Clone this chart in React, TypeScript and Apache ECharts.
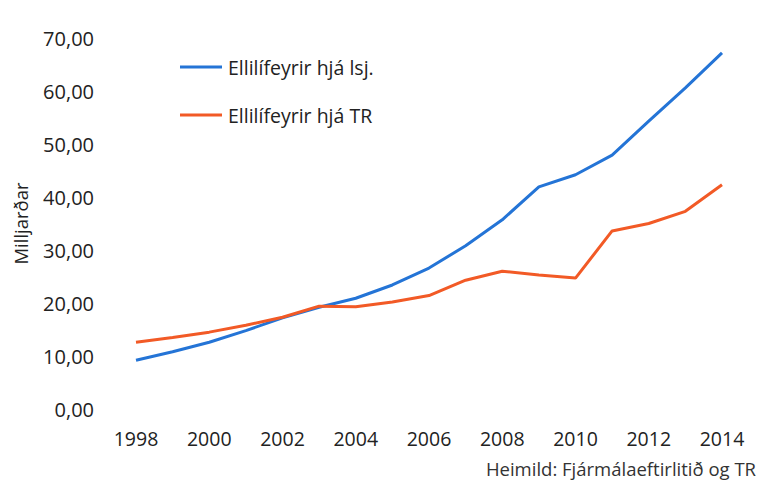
import React, { useEffect, useRef } from "react";
import * as echarts from "echarts";

const years = ["1998","1999","2000","2001","2002","2003","2004","2005","2006","2007","2008","2009","2010","2011","2012","2013","2014"];
const lsj = [9.2, 10.8, 12.6, 14.8, 17.2, 19.2, 20.9, 23.4, 26.6, 30.8, 35.7, 41.9, 44.2, 47.9, 54.3, 60.6, 67.2];
const tr = [12.6, 13.5, 14.5, 15.8, 17.3, 19.4, 19.3, 20.2, 21.4, 24.3, 26.0, 25.3, 24.7, 33.6, 35.0, 37.3, 42.3];
const seriesNames = ["Ellilífeyrir hjá lsj.", "Ellilífeyrir hjá TR"];
const yTicks = { min: 0, max: 70, interval: 10 };
const yTitle = "Milljarðar";
const sourceText = "Heimild: Fjármálaeftirlitið og TR";

const FONT = "'Open Sans', 'Noto Sans', sans-serif";

export default function App() {
  const ref = useRef<HTMLDivElement>(null);
  useEffect(() => {
    if (!ref.current) return;
    const chart = echarts.init(ref.current, null, { renderer: "svg" });
    chart.setOption({
      animation: false,
      backgroundColor: "#ffffff",
      textStyle: { fontFamily: FONT },
      grid: { left: 136, right: 38, top: 38, bottom: 83, containLabel: false },
      legend: {
        orient: "vertical",
        left: 180,
        top: 57,
        padding: 0,
        itemWidth: 42,
        itemHeight: 3,
        itemGap: 28,
        textStyle: { fontSize: 19.5, color: "#222", fontFamily: FONT, padding: [0, 0, 0, 1] },
        data: seriesNames.map((n) => ({ name: n, icon: "rect" })),
      },
      xAxis: {
        type: "category",
        data: years,
        boundaryGap: false,
        axisLine: { show: false },
        axisTick: { show: false },
        axisLabel: { interval: 1, margin: 19, fontSize: 19.5, color: "#222", fontFamily: FONT },
        splitLine: { show: false },
      },
      yAxis: {
        type: "value",
        min: yTicks.min,
        max: yTicks.max,
        interval: yTicks.interval,
        name: yTitle,
        nameLocation: "middle",
        nameRotate: 90,
        nameGap: 106,
        nameTextStyle: { fontSize: 18.5, color: "#222", fontFamily: FONT },
        axisLine: { show: false },
        axisTick: { show: false },
        splitLine: { show: false },
        axisLabel: {
          margin: 42,
          fontSize: 20,
          color: "#222",
          fontFamily: FONT,
          formatter: (v: number) => v.toFixed(2).replace(".", ","),
        },
      },
      graphic: [
        {
          type: "text",
          right: 4,
          top: 459,
          style: { text: sourceText, fontSize: 18.5, fill: "#333", fontFamily: FONT },
        },
      ],
      series: [
        {
          name: seriesNames[0],
          type: "line",
          data: lsj,
          symbol: "none",
          lineStyle: { width: 3, color: "#2474d6" },
          itemStyle: { color: "#2474d6" },
        },
        {
          name: seriesNames[1],
          type: "line",
          data: tr,
          symbol: "none",
          lineStyle: { width: 3, color: "#f25a26" },
          itemStyle: { color: "#f25a26" },
        },
      ],
    });
    return () => chart.dispose();
  }, []);
  return (
    <div
      ref={ref}
      style={{ position: "fixed", left: 0, top: 0, width: 760, height: 492, background: "#fff" }}
    />
  );
}
